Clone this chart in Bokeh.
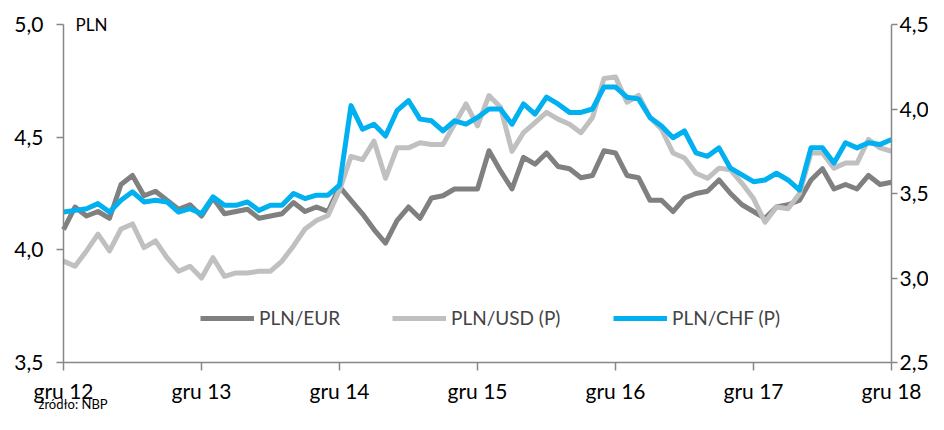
from bokeh.plotting import figure
from bokeh.models import (Range1d, LinearAxis, FixedTicker, CustomJSTickFormatter,
                          Legend, LegendItem, Label, ColumnDataSource)
from bokeh.embed import file_html
from bokeh.resources import INLINE

tick_labels = ["gru 12", "gru 13", "gru 14", "gru 15", "gru 16", "gru 17", "gru 18"]

eur = [4.09, 4.19, 4.15, 4.17, 4.14, 4.29, 4.33, 4.24, 4.26, 4.22, 4.18, 4.20,
       4.15, 4.23, 4.16, 4.17, 4.18, 4.14, 4.15, 4.16, 4.21, 4.17, 4.19, 4.17,
       4.28, 4.22, 4.16, 4.09, 4.03, 4.13, 4.19, 4.14, 4.23, 4.24, 4.27, 4.27,
       4.27, 4.44, 4.35, 4.27, 4.41, 4.38, 4.43, 4.37, 4.36, 4.32, 4.33, 4.44,
       4.43, 4.33, 4.32, 4.22, 4.22, 4.17, 4.23, 4.25, 4.26, 4.31, 4.25, 4.20,
       4.17, 4.14, 4.19, 4.20, 4.22, 4.31, 4.36, 4.27, 4.29, 4.27, 4.33, 4.29,
       4.30]
usd = [3.10, 3.07, 3.16, 3.26, 3.16, 3.29, 3.32, 3.18, 3.22, 3.12, 3.04, 3.07,
       3.00, 3.12, 3.01, 3.03, 3.03, 3.04, 3.04, 3.10, 3.19, 3.29, 3.34, 3.37,
       3.52, 3.72, 3.70, 3.81, 3.59, 3.77, 3.77, 3.80, 3.79, 3.79, 3.91, 4.03,
       3.90, 4.08, 4.01, 3.75, 3.86, 3.92, 3.98, 3.94, 3.91, 3.86, 3.95, 4.18,
       4.19, 4.04, 4.08, 3.95, 3.88, 3.74, 3.71, 3.62, 3.59, 3.65, 3.64, 3.56,
       3.47, 3.33, 3.42, 3.41, 3.50, 3.74, 3.74, 3.65, 3.68, 3.68, 3.82, 3.77,
       3.75]
chf = [3.39, 3.40, 3.41, 3.44, 3.39, 3.46, 3.51, 3.45, 3.46, 3.45, 3.39, 3.41,
       3.38, 3.48, 3.43, 3.43, 3.45, 3.40, 3.43, 3.43, 3.50, 3.47, 3.49, 3.49,
       3.55, 4.02, 3.88, 3.91, 3.84, 3.99, 4.05, 3.94, 3.93, 3.87, 3.93, 3.91,
       3.95, 4.00, 4.00, 3.91, 4.03, 3.97, 4.07, 4.03, 3.98, 3.98, 4.00, 4.13,
       4.13, 4.07, 4.06, 3.95, 3.90, 3.83, 3.87, 3.74, 3.72, 3.77, 3.65, 3.61,
       3.57, 3.58, 3.62, 3.58, 3.52, 3.77, 3.77, 3.68, 3.80, 3.77, 3.80, 3.79,
       3.82]

left_ticks = [3.5, 4.0, 4.5, 5.0]
right_ticks = [2.5, 3.0, 3.5, 4.0, 4.5]

months = list(range(len(eur)))
year_ticks = [12 * i for i in range(len(tick_labels))]
n_months = year_ticks[-1]

FONT = "Lato"
AXIS_COLOR = "#878787"

# layout (pixels within the figure)
W, H = 928, 414
PL, PR, PT, PB = 63, 891, 24, 362          # plot-area edges
xpx = (PR - PL) / n_months                   # px per month
lpx = (PB - PT) / (left_ticks[-1] - left_ticks[0])
rpx = (PB - PT) / (right_ticks[-1] - right_ticks[0])

x_lo = -PL / xpx
x_hi = n_months + (W - PR) / xpx
yl_lo = left_ticks[0] - (H - PB) / lpx
yl_hi = left_ticks[-1] + PT / lpx
yr_lo = right_ticks[0] - (H - PB) / rpx
yr_hi = right_ticks[-1] + PT / rpx

p = figure(width=W, height=H, output_backend="svg", toolbar_location=None,
           x_range=Range1d(x_lo, x_hi), y_range=Range1d(yl_lo, yl_hi),
           min_border=0)
p.extra_y_ranges = {"right": Range1d(yr_lo, yr_hi)}
p.xgrid.visible = False
p.ygrid.visible = False
p.outline_line_color = None
p.background_fill_color = "white"
p.border_fill_color = "white"

fmt = CustomJSTickFormatter(code="return tick.toFixed(1).replace('.', ',');")

def style_axis(ax):
    ax.axis_line_color = AXIS_COLOR
    ax.axis_line_width = 1.5
    ax.major_tick_line_color = AXIS_COLOR
    ax.major_tick_line_width = 1.5
    ax.major_tick_out = 7
    ax.major_tick_in = 0
    ax.minor_tick_line_color = None
    ax.major_label_text_font = FONT
    ax.major_label_text_font_size = "21px"
    ax.major_label_text_color = "#000000"

# x axis
xa = p.xaxis[0]
xa.ticker = FixedTicker(ticks=year_ticks)
xa.major_label_overrides = {t: l for t, l in zip(year_ticks, tick_labels)}
xa.fixed_location = left_ticks[0]
xa.bounds = (0, n_months)
style_axis(xa)
xa.major_tick_out = 8
xa.major_label_standoff = 7

# left axis
ya = p.yaxis[0]
ya.ticker = FixedTicker(ticks=left_ticks)
ya.formatter = fmt
ya.fixed_location = 0
ya.bounds = (left_ticks[0], left_ticks[-1])
style_axis(ya)
ya.major_label_standoff = 13

# right axis
ra = LinearAxis(y_range_name="right", ticker=FixedTicker(ticks=right_ticks),
                formatter=fmt, fixed_location=n_months,
                bounds=(right_ticks[0], right_ticks[-1]))
style_axis(ra)
ra.major_tick_out = 6
ra.major_label_standoff = 2
p.add_layout(ra, "right")

src = ColumnDataSource(dict(m=months, eur=eur, usd=usd, chf=chf))
r_eur = p.line("m", "eur", source=src, line_color="#808080", line_width=5, line_join="round")
r_usd = p.line("m", "usd", source=src, line_color="#C0C0C0", line_width=5, line_join="round",
               y_range_name="right")
r_chf = p.line("m", "chf", source=src, line_color="#00B0F0", line_width=5, line_join="round",
               y_range_name="right")

for label, r, lx in [("PLN/EUR", r_eur, 200), ("PLN/USD (P)", r_usd, 392),
                     ("PLN/CHF (P)", r_chf, 613)]:
    lg = Legend(items=[LegendItem(label=label, renderers=[r])], location=(lx, H - 319 - 10),
                orientation="horizontal", glyph_width=54, glyph_height=20,
                label_height=20, padding=0, margin=0, border_line_color=None,
                background_fill_alpha=0, label_text_font=FONT,
                label_text_font_size="19px", label_standoff=5, spacing=0)
    p.add_layout(lg)

p.add_layout(Label(x=12 / xpx, y=left_ticks[-1], text="PLN", text_font=FONT,
                   text_font_size="17px", text_baseline="middle", text_color="#000000"))
p.add_layout(Label(x=-25 / xpx, y=left_ticks[0], y_offset=-49, text="źródło: NBP",
                   text_font=FONT, text_font_size="13px", text_baseline="bottom",
                   text_color="#000000"))

open("out.html", "w").write(file_html(p, INLINE))
